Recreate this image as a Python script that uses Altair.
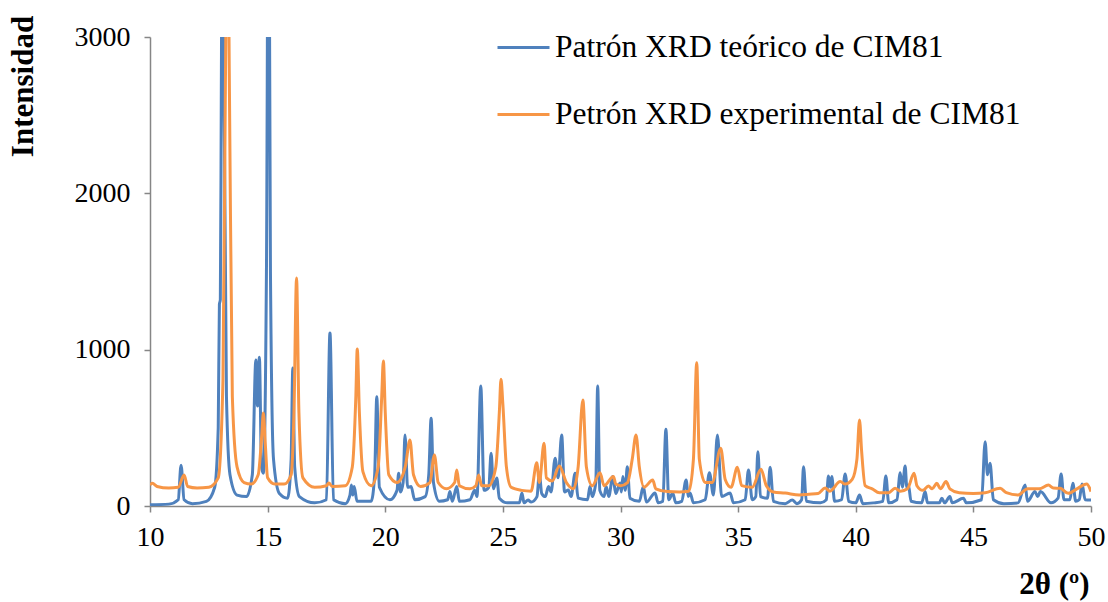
import altair as alt
import pandas as pd

series_names = ["Patrón XRD teórico de CIM81", "Petrón XRD experimental de CIM81"]
series_colors = ["#4F81BD", "#F79646"]
x_ticks = [10, 15, 20, 25, 30, 35, 40, 45, 50]
y_ticks = [0, 1000, 2000, 3000]

# Theoretical pattern (blue): 2theta and intensity
theo_x = [10.0, 10.8, 11.2, 11.32, 11.45, 11.8, 12.4, 12.75, 12.9, 12.95, 12.99, 13.03, 13.09, 13.15, 13.25,
          13.4, 13.7, 14.1, 14.35, 14.5, 14.57, 14.65, 14.74, 14.82, 14.95, 15.04, 15.12, 15.25, 15.5, 15.85,
          16.0, 16.07, 16.15, 16.35, 17.0, 17.5, 17.65, 17.8, 18.3, 18.5, 18.56, 18.62, 18.68, 18.8, 19.4,
          19.55, 19.64, 19.75, 20.2, 20.5, 20.57, 20.65, 20.76, 20.84, 20.95, 21.1, 21.25, 21.7, 21.85, 21.95,
          22.05, 22.3, 22.65, 22.75, 22.85, 23.04, 23.15, 23.6, 23.8, 23.9, 24.06, 24.2, 24.4, 24.5, 24.6,
          24.74, 24.85, 25.2, 25.7, 25.81, 25.9, 26.07, 26.2, 26.45, 26.55, 26.65, 26.8, 26.94, 27.05, 27.22,
          27.35, 27.5, 27.62, 27.78, 27.9, 28.07, 28.2, 28.6, 28.7, 28.8, 28.95, 29.03, 29.12, 29.3, 29.39,
          29.5, 29.67, 29.8, 29.98, 30.04, 30.1, 30.2, 30.29, 30.4, 30.8, 30.97, 31.1, 31.47, 31.6, 31.8,
          31.93, 32.05, 32.22, 32.35, 32.6, 32.79, 32.88, 32.96, 33.1, 33.6, 33.78, 33.95, 34.12, 34.3, 34.66,
          34.8, 35.3, 35.44, 35.6, 35.75, 35.84, 35.95, 36.25, 36.36, 36.5, 37.0, 37.3, 37.5, 37.7, 37.78,
          37.9, 38.5, 38.75, 38.84, 38.92, 38.98, 39.1, 39.4, 39.55, 39.7, 40.0, 40.16, 40.3, 40.75, 41.15,
          41.28, 41.4, 41.75, 41.89, 41.98, 42.1, 42.17, 42.24, 42.35, 42.8, 42.95, 43.05, 43.55, 43.66, 43.78,
          44.0, 44.1, 44.58, 44.7, 45.35, 45.5, 45.6, 45.71, 45.85, 46.3, 46.9, 47.2, 47.3, 47.62, 47.73,
          47.85, 48.3, 48.6, 48.73, 48.85, 49.1, 49.23, 49.35, 49.5, 49.62, 49.75, 50.0]
theo_y = [8, 12, 40, 260, 40, 15, 30, 120, 500, 1290, 1320, 2600, 4500, 2600, 700,
          200, 70, 60, 200, 934, 640, 951, 250, 210, 1500, 4500, 1500, 300, 80, 50,
          300, 883, 250, 60, 20, 40, 1107, 40, 15, 70, 134, 70, 125, 30, 30,
          200, 699, 120, 40, 100, 210, 90, 150, 454, 120, 124, 40, 60, 200, 561,
          150, 30, 40, 92, 30, 124, 30, 40, 100, 60, 768, 100, 120, 337, 110,
          179, 50, 20, 20, 83, 20, 38, 25, 60, 209, 80, 60, 124, 90, 305,
          180, 454, 90, 102, 60, 209, 50, 40, 124, 60, 150, 768, 100, 60, 124,
          60, 188, 80, 147, 90, 188, 100, 251, 50, 30, 124, 25, 83, 20, 30,
          491, 40, 83, 20, 30, 166, 60, 83, 20, 40, 213, 70, 454, 60, 83,
          20, 40, 230, 40, 60, 347, 60, 50, 248, 30, 15, 38, 15, 40, 251,
          30, 20, 40, 192, 120, 188, 30, 40, 205, 30, 20, 70, 15, 20, 30,
          192, 20, 40, 213, 120, 256, 120, 134, 30, 20, 92, 20, 20, 49, 20,
          60, 20, 49, 20, 40, 411, 200, 273, 40, 15, 20, 134, 30, 92, 60,
          92, 20, 50, 205, 40, 40, 145, 30, 40, 141, 40, 38]

# Experimental pattern (orange)
exp_x = [10.0, 10.1, 10.3, 10.8, 11.2, 11.45, 11.6, 12.0, 12.5, 12.9, 13.1, 13.2, 13.29, 13.38, 13.5,
         13.7, 14.0, 14.3, 14.6, 14.75, 14.82, 14.9, 15.0, 15.3, 15.7, 16.0, 16.12, 16.23, 16.33, 16.5,
         17.0, 17.5, 17.6, 17.75, 18.3, 18.6, 18.75, 18.81, 18.9, 19.05, 19.4, 19.7, 19.85, 19.92, 20.0,
         20.15, 20.5, 20.85, 21.05, 21.2, 21.5, 21.9, 22.09, 22.25, 22.6, 22.95, 23.04, 23.15, 23.6, 23.85,
         23.97, 24.1, 24.4, 24.7, 24.85, 24.92, 25.0, 25.15, 25.35, 25.8, 26.2, 26.44, 26.55, 26.75, 26.85,
         27.1, 27.4, 27.7, 28.0, 28.2, 28.4, 28.55, 28.8, 29.13, 29.3, 29.7, 29.8, 30.0, 30.3, 30.5,
         30.66, 30.8, 31.0, 31.37, 31.5, 32.0, 32.5, 32.9, 33.1, 33.24, 33.35, 33.6, 33.9, 34.26, 34.45,
         34.7, 34.97, 35.15, 35.6, 35.97, 36.2, 36.5, 37.0, 37.6, 38.0, 38.4, 38.7, 38.9, 39.34, 39.55,
         39.85, 40.05, 40.16, 40.25, 40.4, 40.7, 41.0, 41.4, 41.67, 41.9, 42.2, 42.48, 42.6, 42.85, 43.09,
         43.25, 43.45, 43.6, 43.84, 44.0, 44.4, 45.0, 45.5, 46.14, 46.4, 46.9, 47.3, 47.8, 48.19, 48.4,
         48.69, 49.03, 49.4, 49.82, 50.0]
exp_y = [135, 145, 125, 115, 120, 198, 125, 115, 120, 180, 800, 2600, 4000, 2600, 700,
         250, 150, 140, 200, 450, 595, 400, 180, 140, 140, 200, 600, 1458, 600, 180,
         120, 130, 147, 125, 130, 250, 700, 1004, 600, 220, 130, 250, 700, 928, 600,
         200, 150, 250, 422, 200, 125, 150, 326, 150, 110, 150, 230, 130, 110, 130,
         198, 130, 130, 250, 600, 810, 650, 250, 120, 100, 95, 277, 150, 401, 180,
         160, 256, 150, 110, 250, 678, 250, 130, 213, 130, 188, 140, 130, 150, 300,
         454, 250, 120, 166, 110, 92, 90, 95, 300, 917, 300, 150, 150, 369, 170,
         120, 248, 130, 120, 235, 130, 90, 83, 70, 75, 80, 115, 95, 156, 140,
         170, 300, 550, 350, 130, 110, 85, 85, 113, 95, 110, 209, 130, 100, 128,
         110, 145, 110, 156, 110, 85, 80, 85, 113, 85, 70, 110, 110, 134, 115,
         113, 81, 110, 141, 92]

df = pd.concat([
    pd.DataFrame({"x": theo_x, "y": theo_y, "serie": series_names[0]}),
    pd.DataFrame({"x": exp_x, "y": exp_y, "serie": series_names[1]}),
])

FONT = "Liberation Serif"
AX = "#868686"

chart = alt.Chart(df).mark_line(clip=True, strokeWidth=3, interpolate="monotone").encode(
    x=alt.X("x:Q",
            scale=alt.Scale(domain=[10, 50], nice=False, zero=False),
            axis=alt.Axis(values=x_ticks, title="2θ (º)", grid=False, labelFlush=False,
                          domainColor=AX, domainWidth=1.5, tickColor=AX, tickWidth=1.5, tickSize=6,
                          labelFont=FONT, labelFontSize=28, labelColor="black", labelPadding=11,
                          titleFont=FONT, titleFontSize=31, titleFontWeight="bold", titleColor="black",
                          titleX=904, titleY=78, titleAlign="center", titleBaseline="middle")),
    y=alt.Y("y:Q",
            scale=alt.Scale(domain=[0, 3000], nice=False),
            axis=alt.Axis(values=y_ticks, title="Intensidad", grid=False, format="d", labelFlush=False,
                          domainColor=AX, domainWidth=1.5, tickColor=AX, tickWidth=1.5, tickSize=6,
                          labelFont=FONT, labelFontSize=28, labelColor="black", labelPadding=14,
                          titleFont=FONT, titleFontSize=31, titleFontWeight="bold", titleColor="black",
                          titleAngle=270, titleX=-127, titleY=49, titleAlign="center",
                          titleBaseline="middle")),
    color=alt.Color("serie:N",
                    scale=alt.Scale(domain=series_names, range=series_colors),
                    legend=alt.Legend(title=None, orient="none", legendX=346, legendY=-17,
                                      symbolType="stroke", symbolSize=2704, symbolStrokeWidth=3,
                                      labelFont=FONT, labelFontSize=31.5, labelColor="black",
                                      labelOffset=4, rowPadding=24, labelLimit=700)),
).properties(
    width=941, height=469,
    autosize=alt.AutoSizeParams(type="none"),
    padding={"left": 150, "top": 37, "right": 17, "bottom": 96},
).configure_view(stroke=None)

chart.save("out.html", embed_options={"renderer": "svg", "actions": False})
